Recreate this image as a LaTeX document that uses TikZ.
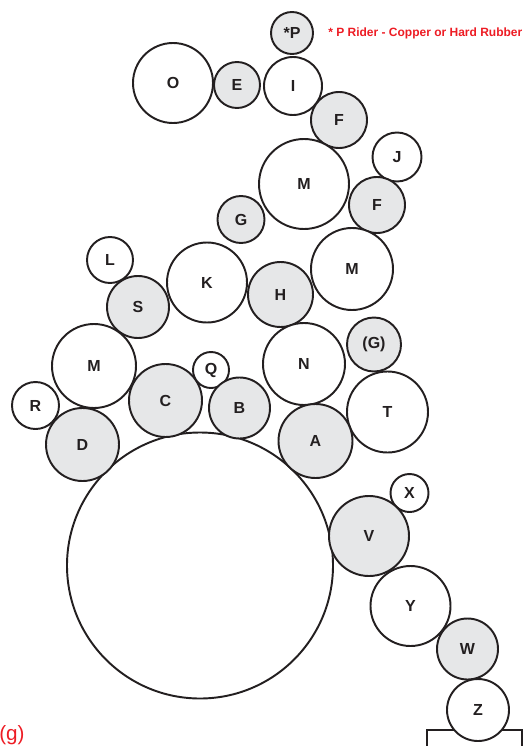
\documentclass[tikz,border=0pt]{standalone}
\usepackage{fontspec}
\setmainfont{Liberation Sans}
\definecolor{ink}{HTML}{231F20}
\definecolor{shade}{HTML}{E6E7E8}
\definecolor{alert}{HTML}{ED1C24}
\tikzset{
  wheel/.style={circle,draw=ink,line width=1.45pt,fill=white,inner sep=0pt,
    minimum size=#1*1.5pt,font=\bfseries\fontsize{12}{12}\selectfont,text=ink},
  gwheel/.style={wheel=#1,fill=shade},
}
\begin{document}
\begin{tikzpicture}[x=0.75pt,y=-0.75pt]
\useasboundingbox (0,0) rectangle (524,746);
% big drum
\node[wheel=133] (big) at (200,565.5) {};
% top group
\node[gwheel=21] (p) at (292,33) {*P};
\node[wheel=40] (o) at (173,83) {O};
\node[gwheel=23] (e) at (237,85) {E};
\node[wheel=29] (i) at (293,86) {I};
\node[gwheel=28] (f1) at (339,120) {F};
\node[wheel=45] (m1) at (304,184) {M};
\node[wheel=24.5] (j) at (397,157) {J};
\node[gwheel=28] (f2) at (377,205) {F};
\node[gwheel=23.5] (g) at (241,219.5) {G};
% middle
\node[wheel=23] (l) at (110,260) {L};
\node[gwheel=31] (s) at (138,307) {S};
\node[wheel=40] (k) at (207,282.5) {K};
\node[gwheel=32.5] (h) at (280.5,294.5) {H};
\node[wheel=41] (m2) at (352,269) {M};
\node[wheel=42] (m3) at (94,366) {M};
\node[wheel=23.5] (r) at (35.5,405.5) {R};
\node[gwheel=36.5] (d) at (82.5,444.5) {D};
\node[gwheel=36.5] (c) at (165.5,400.5) {C};
\node[wheel=18] (q) at (211,370) {Q};
\node[gwheel=30.5] (b) at (239.5,408) {B};
\node[wheel=41] (n) at (304,364) {N};
\node[gwheel=27] (gg) at (374,344.5) {(G)};
\node[wheel=40.5] (t) at (387.5,412) {T};
\node[gwheel=37] (a) at (315.5,441) {A};
% lower right
\node[wheel=19] (x) at (409.5,493) {X};
\node[gwheel=40] (v) at (369,536) {V};
\node[wheel=40] (y) at (410.5,606) {Y};
\node[gwheel=30.5] (w) at (467.5,649) {W};
\draw[draw=ink,line width=1.45pt] (427,750) |- (522,730) -- (522,750);
\node[wheel=31] (z) at (478,710) {Z};
% texts
\node[anchor=west,inner sep=0pt,text=alert,font=\bfseries\fontsize{9}{9}\selectfont] (note) at (328,33) {* P Rider - Copper or Hard Rubber};
\node[anchor=base west,inner sep=0pt,text=alert,font=\fontsize{15.5}{15.5}\selectfont] (gl) at (-1,740) {(g)};
\end{tikzpicture}
\end{document}
